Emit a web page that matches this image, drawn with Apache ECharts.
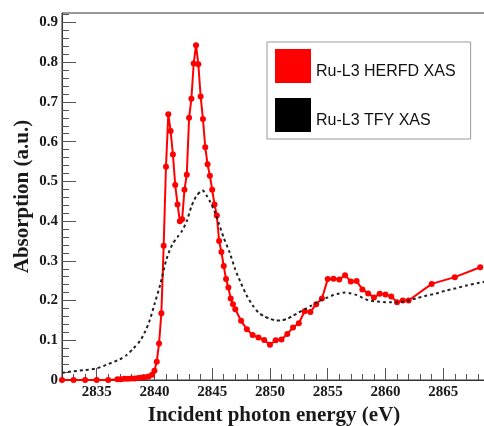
<!DOCTYPE html>
<html>
<head>
<meta charset="utf-8">
<script src="https://cdn.jsdelivr.net/npm/echarts@6/dist/echarts.min.js"></script>
<style>
  html, body { margin: 0; padding: 0; background: #fff; }
  #chart { width: 484px; height: 426px; }
</style>
</head>
<body>
<div id="chart"></div>
<script>
// Ru L3-edge absorption: HERFD spectrum (markers) and TFY spectrum (dotted)
const herfdEnergy = [
  2832, 2833, 2834, 2835, 2836,
  2836.8, 2837.1, 2837.4, 2837.7, 2838.0, 2838.3, 2838.6, 2838.9, 2839.2, 2839.5, 2839.8,
  2840.0, 2840.2, 2840.4, 2840.6, 2840.8, 2841.0, 2841.2, 2841.4, 2841.6, 2841.8,
  2842.0, 2842.2, 2842.4, 2842.6, 2842.8, 2843.0, 2843.2, 2843.4, 2843.6, 2843.8,
  2844.0, 2844.2, 2844.4, 2844.6, 2844.8, 2845.0, 2845.2, 2845.4, 2845.6, 2845.8,
  2846.0, 2846.2, 2846.4, 2846.6, 2846.8, 2847.0,
  2847.5, 2848.0, 2848.5, 2849.0, 2849.5, 2850.0, 2850.5, 2851.0, 2851.5, 2852.0,
  2852.5, 2853.0, 2853.5, 2854.0, 2854.5, 2855.0, 2855.5, 2856.0, 2856.5, 2857.0,
  2857.5, 2858.0, 2858.5, 2859.0, 2859.5, 2860.0, 2860.5, 2861.0, 2861.5, 2862.0,
  2864.0, 2866.0, 2868.2
];
const herfdAbs = [
  0, 0, 0, 0, 0,
  0.002, 0.002, 0.003, 0.003, 0.004, 0.004, 0.005, 0.006, 0.007, 0.009, 0.013,
  0.023, 0.046, 0.092, 0.168, 0.338, 0.537, 0.669, 0.627, 0.568, 0.491,
  0.442, 0.400, 0.405, 0.479, 0.517, 0.660, 0.708, 0.797, 0.843, 0.795,
  0.714, 0.657, 0.586, 0.543, 0.514, 0.479, 0.442, 0.414, 0.350, 0.322,
  0.287, 0.254, 0.233, 0.205, 0.191, 0.178,
  0.149, 0.128, 0.113, 0.107, 0.101, 0.089, 0.100, 0.102, 0.116, 0.132,
  0.143, 0.173, 0.171, 0.191, 0.205, 0.254, 0.255, 0.253, 0.264, 0.248,
  0.249, 0.228, 0.218, 0.208, 0.217, 0.215, 0.210, 0.196, 0.200, 0.200,
  0.242, 0.259, 0.284
];

const tfyEnergy = [
  2832.0, 2833.0, 2834.0, 2835.0, 2836.0, 2837.0, 2837.6, 2838.2, 2838.75, 2839.2,
  2839.6, 2840.0, 2840.5, 2841.0, 2841.3, 2841.6, 2842.0, 2842.4, 2842.8, 2843.2,
  2843.6, 2844.0, 2844.2, 2844.5, 2844.8, 2845.2, 2845.6, 2846.0, 2846.5, 2847.0,
  2847.5, 2848.0, 2848.5, 2849.0, 2849.5, 2850.0, 2850.5, 2851.0, 2851.5, 2852.0,
  2852.5, 2853.0, 2853.5, 2854.0, 2854.5, 2855.0, 2855.5, 2856.0, 2856.5, 2857.0,
  2857.5, 2858.0, 2858.5, 2859.0, 2859.5, 2860.0, 2860.5, 2861.0, 2861.5, 2862.0,
  2862.7, 2863.5, 2864.4, 2865.2, 2866.1, 2867.0, 2868.0, 2868.7
];
const tfyAbs = [
  0.018, 0.022, 0.025, 0.029, 0.040, 0.052, 0.063, 0.080, 0.098, 0.122,
  0.151, 0.190, 0.240, 0.300, 0.325, 0.344, 0.360, 0.376, 0.400, 0.437,
  0.462, 0.475, 0.477, 0.465, 0.450, 0.425, 0.392, 0.358, 0.322, 0.278,
  0.243, 0.212, 0.188, 0.170, 0.160, 0.154, 0.150, 0.150, 0.154, 0.162,
  0.170, 0.178, 0.186, 0.194, 0.202, 0.208, 0.214, 0.218, 0.220, 0.218,
  0.214, 0.207, 0.201, 0.198, 0.197, 0.196, 0.196, 0.196, 0.197, 0.200,
  0.206, 0.212, 0.218, 0.225, 0.231, 0.238, 0.244, 0.248
];

const xMajorTicks = [2835, 2840, 2845, 2850, 2855, 2860, 2865];
const xMinorTicks = [2833, 2834, 2836, 2837, 2838, 2839, 2841, 2842, 2843, 2844,
  2846, 2847, 2848, 2849, 2851, 2852, 2853, 2854, 2856, 2857, 2858, 2859,
  2861, 2862, 2863, 2864, 2866, 2867, 2868];
const yMajorTicks = [0, 0.1, 0.2, 0.3, 0.4, 0.5, 0.6, 0.7, 0.8, 0.9];
const yMinorTicks = [0.02, 0.04, 0.06, 0.08, 0.12, 0.14, 0.16, 0.18, 0.22, 0.24, 0.26, 0.28,
  0.32, 0.34, 0.36, 0.38, 0.42, 0.44, 0.46, 0.48, 0.52, 0.54, 0.56, 0.58,
  0.62, 0.64, 0.66, 0.68, 0.72, 0.74, 0.76, 0.78, 0.82, 0.84, 0.86, 0.88, 0.92];

const seriesNames = ['Ru-L3 HERFD XAS', 'Ru-L3 TFY XAS'];

const zip = (xs, ys) => xs.map((x, i) => [x, ys[i]]);

const X_MIN = 2832, X_MAX = 2868.7;
const Y_MIN = 0, Y_MAX = 0.924;

const serifBold = { fontFamily: 'Liberation Serif', fontWeight: 'bold', color: '#1a1a1a' };
const axisColor = '#333';
const tickColor = '#555';

const chart = echarts.init(document.getElementById('chart'), null, { renderer: 'canvas' });
chart.setOption({
  animation: false,
  backgroundColor: '#fff',
  grid: {
    left: 62, top: 13, right: -2, bottom: 46,
    outerBoundsMode: 'none',
    containLabel: false,
    show: true, borderColor: axisColor, borderWidth: 1, backgroundColor: 'transparent'
  },
  legend: {
    orient: 'vertical',
    left: 267, top: 42,
    padding: [7, 15, 7, 8],
    itemWidth: 36, itemHeight: 34, itemGap: 15,
    backgroundColor: '#fff',
    borderColor: '#999', borderWidth: 1,
    icon: 'rect',
    itemStyle: { borderWidth: 0 },
    formatter: name => '{t|' + name + '}',
    textStyle: {
      fontFamily: 'Liberation Sans', fontSize: 16, color: '#111',
      rich: { t: { fontFamily: 'Liberation Sans', fontSize: 16, color: '#111', padding: [12, 0, 0, 0] } }
    },
    data: seriesNames
  },
  xAxis: [
    {
      type: 'value', position: 'bottom', min: X_MIN, max: X_MAX,
      name: 'Incident photon energy (eV)', nameLocation: 'middle', nameGap: 25,
      nameMoveOverlap: false,
      nameTextStyle: Object.assign({ fontSize: 21 }, serifBold),
      axisLine: { show: true, lineStyle: { color: axisColor, width: 1 } },
      axisTick: { show: true, inside: true, length: 12, customValues: xMajorTicks, lineStyle: { color: tickColor } },
      axisLabel: Object.assign({
        fontSize: 15, margin: 5, customValues: xMajorTicks,
        formatter: v => String(v)
      }, serifBold),
      splitLine: { show: false }
    },
    {
      type: 'value', position: 'bottom', min: X_MIN, max: X_MAX,
      axisLine: { show: false },
      axisTick: { show: true, inside: true, length: 6, customValues: xMinorTicks, lineStyle: { color: tickColor } },
      axisLabel: { show: false },
      splitLine: { show: false }
    }
  ],
  yAxis: [
    {
      type: 'value', position: 'left', min: Y_MIN, max: Y_MAX,
      name: 'Absorption (a.u.)', nameLocation: 'middle', nameGap: 29, nameRotate: 90,
      nameMoveOverlap: false,
      nameTextStyle: Object.assign({ fontSize: 21 }, serifBold),
      axisLine: { show: true, lineStyle: { color: axisColor, width: 1 } },
      axisTick: { show: true, inside: true, length: 14, customValues: yMajorTicks, lineStyle: { color: tickColor } },
      axisLabel: Object.assign({
        fontSize: 15, margin: 4, customValues: yMajorTicks,
        formatter: v => (v === 0 ? '0' : v.toFixed(1))
      }, serifBold),
      splitLine: { show: false }
    },
    {
      type: 'value', position: 'left', min: Y_MIN, max: Y_MAX,
      axisLine: { show: false },
      axisTick: { show: true, inside: true, length: 7, customValues: yMinorTicks, lineStyle: { color: tickColor } },
      axisLabel: { show: false },
      splitLine: { show: false }
    }
  ],
  series: [
    {
      name: seriesNames[0], type: 'line', xAxisIndex: 0, yAxisIndex: 0,
      data: zip(herfdEnergy, herfdAbs),
      clip: false,
      color: '#ff0000',
      symbol: 'circle', symbolSize: 6, showSymbol: true,
      lineStyle: { color: '#ff0000', width: 2 },
      itemStyle: { color: '#ff0000' },
      z: 2
    },
    {
      name: seriesNames[1], type: 'line', xAxisIndex: 0, yAxisIndex: 0,
      data: zip(tfyEnergy, tfyAbs),
      color: '#000000',
      symbol: 'none', showSymbol: false, smooth: 0.2,
      lineStyle: { color: '#222', width: 2, type: [3, 3] },
      itemStyle: { color: '#000000' },
      z: 3
    }
  ]
});
</script>
</body>
</html>
